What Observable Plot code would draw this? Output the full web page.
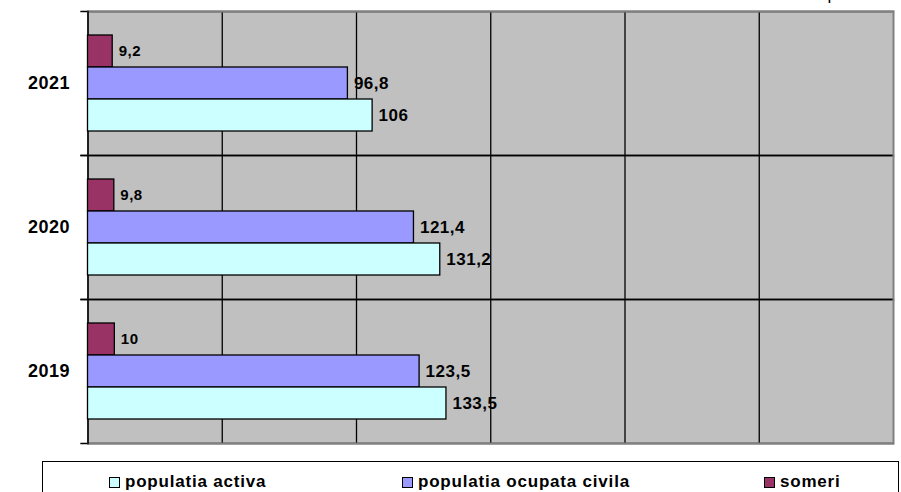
<!DOCTYPE html>
<html><head><meta charset="utf-8">
<script src="https://cdn.jsdelivr.net/npm/d3@7"></script>
<script src="https://cdn.jsdelivr.net/npm/@observablehq/plot@0.6"></script>
<style>
body{margin:0;background:#fff;overflow:hidden;font-family:"Liberation Sans",Arial,sans-serif;}
#wrap{position:relative;width:901px;height:492px;overflow:hidden;}
#wrap svg text{letter-spacing:0.5px;}
#unit{position:absolute;left:801px;top:-14px;font-size:17px;line-height:17px;white-space:nowrap;color:#000;}
#legend{position:absolute;left:42px;top:461px;width:857px;height:40px;border:1.5px solid #000;background:#fff;box-sizing:border-box;}
.item{position:absolute;top:10px;height:20px;display:flex;align-items:center;font-size:17px;font-weight:bold;letter-spacing:0.8px;white-space:nowrap;}
.sw{width:9px;height:9px;border:1px solid #000;margin-right:5px;}
</style></head><body><div id="wrap"></div>
<script>
const years = ["2021", "2020", "2019"];
const seriesKeys = ["someri", "populatia ocupata civila", "populatia activa"];
const legendOrder = ["populatia activa", "populatia ocupata civila", "someri"];
const activa = [106, 131.2, 133.5];
const ocupata = [96.8, 121.4, 123.5];
const someri = [9.2, 9.8, 10];
const gridTicks = [50, 100, 150, 200, 250];
const colors = ["#993366", "#9999FF", "#CCFFFF"];
const unitLabel = "mii persoane";

const rows = [];
years.forEach((yr, i) => {
  rows.push({year: yr, series: "someri", value: someri[i]});
  rows.push({year: yr, series: "populatia ocupata civila", value: ocupata[i]});
  rows.push({year: yr, series: "populatia activa", value: activa[i]});
});
const fmt = v => String(v).replace(".", ",");

const chart = Plot.plot({
  width: 901, height: 455,
  marginLeft: 87.5, marginRight: 8, marginTop: 10, marginBottom: 12,
  style: {fontFamily: "'Liberation Sans', Arial, sans-serif", background: "transparent", overflow: "visible"},
  x: {domain: [0, 300], axis: null},
  y: {domain: seriesKeys, paddingInner: 0, paddingOuter: 0.73, axis: null},
  fy: {domain: years, padding: 0, label: null},
  color: {domain: seriesKeys, range: colors},
  marks: [
    Plot.frame({fill: "#C0C0C0", stroke: null}),
    Plot.ruleX(gridTicks, {stroke: "black", strokeWidth: 1.3}),
    Plot.frame({anchor: "top", stroke: "black", strokeWidth: 1.3, insetLeft: -7}),
    Plot.frame({anchor: "bottom", stroke: "black", strokeWidth: 1.3, insetLeft: -7}),
    Plot.frame({facet: "super", stroke: "#808080", strokeWidth: 2}),
    Plot.frame({anchor: "left", stroke: "black", strokeWidth: 1.5}),
    Plot.barX(rows, {fy: "year", y: "series", x: "value", fill: "series", stroke: "black", strokeWidth: 1.3}),
    Plot.text(rows, {fy: "year", y: "series", x: "value", text: d => fmt(d.value), textAnchor: "start", dx: 6,
      fontWeight: "bold", fontSize: d => d.series === "someri" ? 15 : 17, fill: "black"}),
    Plot.axisFy({anchor: "left", tickSize: 0, tickPadding: 18, fontSize: 18, fontWeight: "bold", label: null})
  ]
});
const wrap = document.getElementById("wrap");
wrap.appendChild(chart);

const unit = document.createElement("div");
unit.id = "unit";
unit.textContent = unitLabel;
wrap.appendChild(unit);

const legend = document.createElement("div");
legend.id = "legend";
const itemLeft = [108, 401, 763];
legendOrder.forEach((s, i) => {
  const it = document.createElement("div");
  it.className = "item";
  it.style.left = (itemLeft[i] - 42) + "px";
  const sw = document.createElement("span");
  sw.className = "sw";
  sw.style.background = colors[seriesKeys.indexOf(s)];
  it.appendChild(sw);
  const t = document.createElement("span");
  t.textContent = s;
  it.appendChild(t);
  legend.appendChild(it);
});
wrap.appendChild(legend);
</script></body></html>
